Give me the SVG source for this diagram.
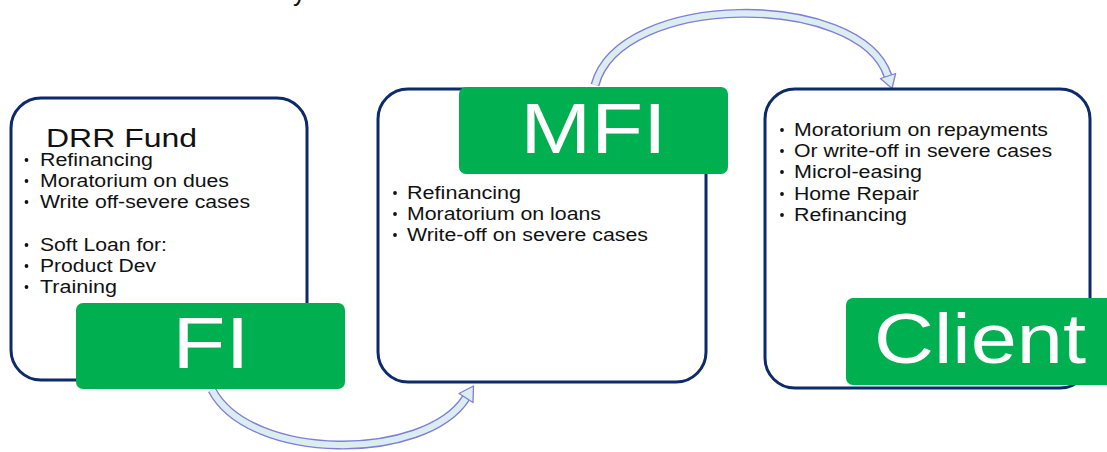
<svg xmlns="http://www.w3.org/2000/svg" width="1107" height="452" viewBox="0 0 1107 452">
  <style>
    .frame { fill: #ffffff; stroke: #0c2a6c; stroke-width: 3; }
    .tag { fill: #00b050; }
    .tag-text { font-family: "Liberation Sans", Arial, sans-serif; fill: #ffffff; }
    .item { font-family: "Liberation Sans", Arial, sans-serif; font-size: 17.5px; fill: #111111; }
    .head { font-family: "Liberation Sans", Arial, sans-serif; font-size: 25px; fill: #111111; }
    .dot { fill: #111111; }
    .band-edge { fill: none; stroke: #7f7fd6; stroke-width: 9; }
    .band-fill { fill: none; stroke: #dcedf2; stroke-width: 6.2; }
    .tip { fill: #dcedf2; stroke: #7f7fd6; stroke-width: 1.3; stroke-linejoin: round; }
  </style>

  <!-- tail of a title line running off the top edge -->
  <text class="head" x="293" y="0.5">y</text>

  <!-- curved flow arrows -->
  <g id="connectors">
    <g id="arrow-fi-mfi">
      <path class="band-edge" d="M212,390 C250,462 425,462 466,398"/>
      <path class="band-fill" d="M212,390 C250,462 425,462 466,398"/>
      <polygon class="tip" points="473.5,386 473,402.5 459,393.5"/>
    </g>
    <g id="arrow-mfi-client">
      <path class="band-edge" d="M595,85 C620,-9 860,-9 888,76"/>
      <path class="band-fill" d="M595,85 C620,-9 860,-9 888,76"/>
      <polygon class="tip" points="892,88.5 895.6,73.5 880.4,78.5"/>
    </g>
  </g>

  <!-- FI -->
  <g id="node-fi">
    <rect class="frame" x="11" y="98" width="296" height="282" rx="30"/>
    <text class="head" x="46" y="147" textLength="151" lengthAdjust="spacingAndGlyphs">DRR Fund</text>
    <circle class="dot" cx="26.5" cy="160" r="1.9"/>
    <text class="item" x="40" y="166" textLength="113" lengthAdjust="spacingAndGlyphs">Refinancing</text>
    <circle class="dot" cx="26.5" cy="181" r="1.9"/>
    <text class="item" x="40" y="187" textLength="189" lengthAdjust="spacingAndGlyphs">Moratorium on dues</text>
    <circle class="dot" cx="26.5" cy="202" r="1.9"/>
    <text class="item" x="40" y="208" textLength="210" lengthAdjust="spacingAndGlyphs">Write off-severe cases</text>
    <circle class="dot" cx="26.5" cy="245" r="1.9"/>
    <text class="item" x="40" y="251" textLength="127" lengthAdjust="spacingAndGlyphs">Soft Loan for:</text>
    <circle class="dot" cx="26.5" cy="266" r="1.9"/>
    <text class="item" x="40" y="272" textLength="116" lengthAdjust="spacingAndGlyphs">Product Dev</text>
    <circle class="dot" cx="26.5" cy="287" r="1.9"/>
    <text class="item" x="40" y="293" textLength="77" lengthAdjust="spacingAndGlyphs">Training</text>
    <rect class="tag" x="76" y="303" width="269" height="86" rx="7"/>
    <text class="tag-text" x="211" y="368" font-size="72" text-anchor="middle" textLength="77" lengthAdjust="spacingAndGlyphs">FI</text>
  </g>

  <!-- MFI -->
  <g id="node-mfi">
    <rect class="frame" x="378" y="89" width="328" height="293" rx="30"/>
    <rect class="tag" x="459" y="87" width="269" height="87" rx="7"/>
    <text class="tag-text" x="593.5" y="153" font-size="71" text-anchor="middle" textLength="146" lengthAdjust="spacingAndGlyphs">MFI</text>
    <circle class="dot" cx="395" cy="193" r="1.9"/>
    <text class="item" x="407" y="199" textLength="114" lengthAdjust="spacingAndGlyphs">Refinancing</text>
    <circle class="dot" cx="395" cy="214" r="1.9"/>
    <text class="item" x="407" y="220" textLength="194" lengthAdjust="spacingAndGlyphs">Moratorium on loans</text>
    <circle class="dot" cx="395" cy="235" r="1.9"/>
    <text class="item" x="407" y="241" textLength="241" lengthAdjust="spacingAndGlyphs">Write-off on severe cases</text>
  </g>

  <!-- Client -->
  <g id="node-client">
    <rect class="frame" x="765" y="89" width="325" height="299" rx="30"/>
    <circle class="dot" cx="782" cy="130" r="1.9"/>
    <text class="item" x="794" y="136" textLength="254" lengthAdjust="spacingAndGlyphs">Moratorium on repayments</text>
    <circle class="dot" cx="782" cy="151" r="1.9"/>
    <text class="item" x="794" y="157" textLength="258" lengthAdjust="spacingAndGlyphs">Or write-off in severe cases</text>
    <circle class="dot" cx="782" cy="172" r="1.9"/>
    <text class="item" x="794" y="178" textLength="128" lengthAdjust="spacingAndGlyphs">Microl-easing</text>
    <circle class="dot" cx="782" cy="194" r="1.9"/>
    <text class="item" x="794" y="200" textLength="125" lengthAdjust="spacingAndGlyphs">Home Repair</text>
    <circle class="dot" cx="782" cy="215" r="1.9"/>
    <text class="item" x="794" y="221" textLength="113" lengthAdjust="spacingAndGlyphs">Refinancing</text>
    <rect class="tag" x="846" y="298" width="270" height="87" rx="7"/>
    <text class="tag-text" x="874" y="363" font-size="70" textLength="212" lengthAdjust="spacingAndGlyphs">Client</text>
  </g>
</svg>
